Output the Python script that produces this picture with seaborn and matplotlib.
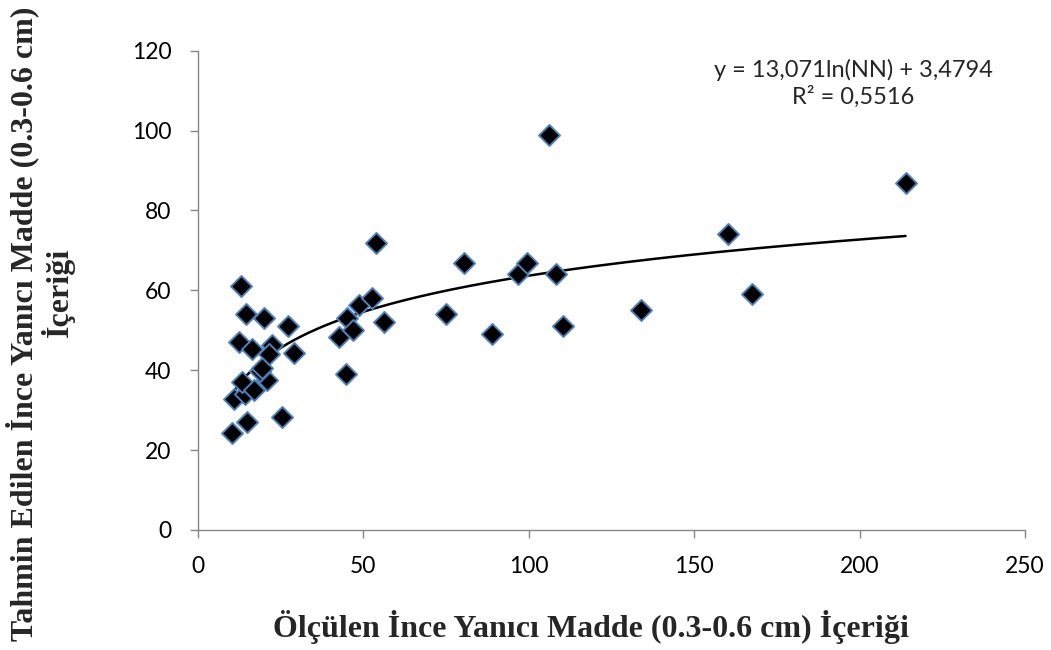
import numpy as np
import pandas as pd
import matplotlib
matplotlib.use("Agg")
import matplotlib.pyplot as plt
import seaborn as sns

# Measured (x) and estimated (y) values
measured = [10.3, 10.9, 14.3, 14.8, 25.4, 13.3, 16.9, 20.9, 18.7, 19.4,
            12.4, 16.3, 22.4, 21.5, 29.0, 13.1, 14.6, 19.9, 27.4, 42.8,
            44.9, 45.1, 46.8, 48.8, 52.8, 53.8, 56.2, 74.9, 80.4, 88.8,
            96.9, 99.4, 106.3, 108.3, 110.5, 134.0, 160.4, 167.6, 213.9]
estimated = [24.2, 32.9, 34.0, 27.1, 28.2, 37.1, 35.0, 37.5, 39.8, 40.6,
             47.1, 45.3, 46.3, 44.0, 44.2, 61.1, 54.1, 53.1, 51.1, 48.2,
             39.0, 53.2, 50.0, 56.3, 58.1, 71.9, 52.1, 54.0, 66.9, 49.0,
             64.0, 66.9, 98.8, 64.2, 51.0, 55.0, 74.0, 59.0, 86.9]

# Trendline coefficients shown on the chart
coef_a = 13.071
coef_b = 3.4794
eq_text = "y = 13,071ln(NN) + 3,4794"
r2_text = "R² = 0,5516"

x_ticks = [0, 50, 100, 150, 200, 250]
y_ticks = [0, 20, 40, 60, 80, 100, 120]

xlabel = "Ölçülen İnce Yanıcı Madde (0.3-0.6 cm) İçeriği"
ylabel_1 = "Tahmin Edilen İnce Yanıcı Madde (0.3-0.6 cm)"
ylabel_2 = "İçeriği"

df = pd.DataFrame({"x": measured, "y": estimated})
xs = np.linspace(min(measured), max(measured), 300)
trend = pd.DataFrame({"x": xs, "y": coef_a * np.log(xs) + coef_b})

sns.set_theme(style="white")
plt.rcParams["font.family"] = ["Lato", "DejaVu Sans"]

W, H = 1051, 650
fig = plt.figure(figsize=(W / 100, H / 100), dpi=100)
L, R, T, B = 197.7, 1025.0, 50.7, 530.0
ax = fig.add_axes([L / W, 1 - B / H, (R - L) / W, (B - T) / H])

sns.lineplot(data=trend, x="x", y="y", ax=ax, color="black", linewidth=1.8)
sns.scatterplot(data=df, x="x", y="y", ax=ax, marker="D", s=115,
                color="black", edgecolor="#4F81BD", linewidth=1.4, zorder=3)

ax.set_xlim(0, 250)
ax.set_ylim(0, 120)
ax.set_xticks(x_ticks)
ax.set_yticks(y_ticks)
ax.set_xlabel("")
ax.set_ylabel("")
for s in ["top", "right"]:
    ax.spines[s].set_visible(False)
for s in ["left", "bottom"]:
    ax.spines[s].set_color("#868686")
    ax.spines[s].set_linewidth(1.0)
ax.tick_params(axis="both", which="major", direction="out", length=5.8,
               width=1.0, color="#868686", labelsize=16.5, labelcolor="black",
               left=True, bottom=True)
ax.tick_params(axis="y", pad=13)
ax.tick_params(axis="x", pad=13)

fig.text(853 / W, 1 - 70 / H, eq_text, ha="center", va="center", fontsize=17)
fig.text(853 / W, 1 - 97 / H, r2_text, ha="center", va="center", fontsize=17)

serif = ["Liberation Serif", "DejaVu Serif"]
fig.text(591 / W, 1 - 627 / H, xlabel, ha="center", va="center",
         fontsize=23, fontweight="bold", family=serif)
fig.text(22 / W, 1 - 324 / H, ylabel_1, ha="center", va="center", rotation=90,
         fontsize=23, fontweight="bold", family=serif)
fig.text(58 / W, 1 - 292 / H, ylabel_2, ha="center", va="center", rotation=90,
         fontsize=23, fontweight="bold", family=serif)

fig.savefig("out.png", dpi=100)
